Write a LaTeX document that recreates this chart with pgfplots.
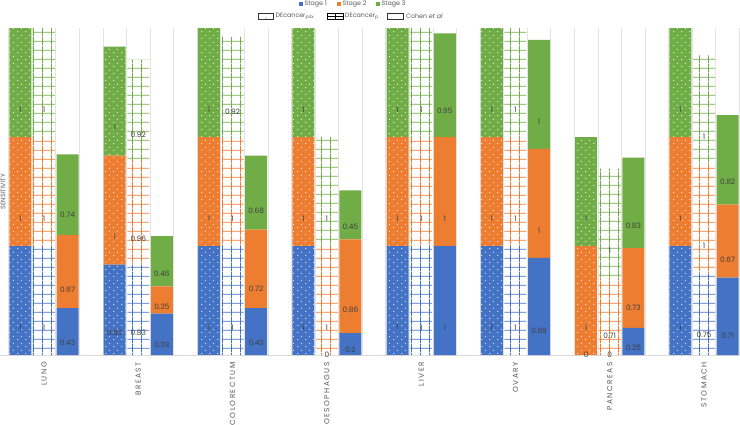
\documentclass[border=0pt]{standalone}
\usepackage{pgfplots}
\usepackage{pgfplotstable}
\pgfplotsset{compat=1.18}
\usepackage{fontspec}
\setmainfont{Poppins}
\usetikzlibrary{patterns.meta}

\definecolor{s1}{HTML}{4472C4}
\definecolor{s2}{HTML}{ED7D31}
\definecolor{s3}{HTML}{70AD47}
\definecolor{tgray}{HTML}{595959}
\definecolor{lgray}{HTML}{404040}

\tikzdeclarepattern{
  name=wdots,
  type=uncolored,
  bottom left={(0pt,0pt)},
  top right={(8pt,7pt)},
  tile size={(8pt,7pt)},
  code={
    \fill (2pt,1.75pt) circle (0.6pt);
    \fill (6pt,5.25pt) circle (0.6pt);
  }
}
\tikzdeclarepattern{
  name=pgrid,
  type=uncolored,
  bottom left={(0pt,0pt)},
  top right={(9.43pt,9.08pt)},
  tile size={(9.43pt,9.08pt)},
  code={
    \fill (5.35pt,0pt) rectangle (6.25pt,9.08pt);
    \fill (0pt,3.6pt) rectangle (9.43pt,4.5pt);
  }
}

\pgfplotstableread{
x pdxA pdxB pdxC pA pB pC cA cB cC
0 1    1 1 1    1    1    0.43 0.67 0.74
1 0.83 1 1 0.83 0.96 0.92 0.38 0.25 0.46
2 1    1 1 1    1    0.92 0.43 0.72 0.68
3 1    1 1 0    1    1    0.2  0.86 0.45
4 1    1 1 1    1    1    1    1    0.95
5 1    1 1 1    1    1    0.89 1    1
6 0    1 1 0    0.71 1    0.25 0.73 0.83
7 1    1 1 0.75 1    1    0.71 0.67 0.82
}\data

\pgfplotsset{
  common/.style={
    at={(0,0)}, anchor=south west,
    scale only axis, width=740pt, height=327pt,
    xmin=-0.4666, xmax=7.381, ymin=0, ymax=3,
    ybar stacked, bar width=22pt,
    stacked ignores zero=false,
    axis line style={draw=none},
    major tick length=0pt, minor tick length=0pt,
    ytick=\empty,
    point meta=explicit symbolic,
    nodes near coords={\pgfplotspointmeta},
    every node near coord/.append style={yshift=-\pgfplotspointmeta*27.25pt,
      anchor=center, inner sep=0pt, text=lgray, font=\fontsize{7.4}{8}\selectfont},
  },
}

\begin{document}
\begin{tikzpicture}
% Axis 1: grid, labels, DEcancer_pdx
\begin{axis}[common,
  xtick={0,...,7},
  xticklabels={LUNG,BREAST,COLORECTUM,OESOPHAGUS,LIVER,OVARY,PANCREAS,STOMACH},
  minor xtick={-0.375,-0.125,...,7.375},
  xminorgrids, minor grid style={draw=gray!22, line width=0.8pt},
  xticklabel style={rotate=90, anchor=east, inner sep=0pt, text=tgray,
    font=\fontsize{7.4}{8}\selectfont\addfontfeature{LetterSpace=20}},
  xticklabel shift=7pt,
]
\draw[gray!30, line width=0.8pt] (rel axis cs:0,0) -- (rel axis cs:1,0);
\addplot[bar shift=-23.6pt, fill=s1, draw=none, postaction={pattern=wdots, pattern color=white}]
  table[x=x, y=pdxA, meta=pdxA]{\data};
\addplot[bar shift=-23.6pt, fill=s2, draw=none, postaction={pattern=wdots, pattern color=white}]
  table[x=x, y=pdxB, meta=pdxB]{\data};
\addplot[bar shift=-23.6pt, fill=s3, draw=none, postaction={pattern=wdots, pattern color=white}]
  table[x=x, y=pdxC, meta=pdxC]{\data};
\node[rotate=90, anchor=north, inner sep=0.5pt, text=tgray, font=\fontsize{6.5}{7}\selectfont]
  at (rel axis cs:0,0.5) {SENSITIVITY};
\end{axis}
% Axis 2: DEcancer_p
\begin{axis}[common, xtick=\empty]
\addplot[bar shift=0pt, fill=white, draw=none, postaction={pattern=pgrid, pattern color=s1}]
  table[x=x, y=pA, meta=pA]{\data};
\addplot[bar shift=0pt, fill=white, draw=none, postaction={pattern=pgrid, pattern color=s2}]
  table[x=x, y=pB, meta=pB]{\data};
\addplot[bar shift=0pt, fill=white, draw=none, postaction={pattern=pgrid, pattern color=s3}]
  table[x=x, y=pC, meta=pC]{\data};
\end{axis}
% Axis 3: Cohen et al
\begin{axis}[common, xtick=\empty]
\addplot[bar shift=23.6pt, fill=s1, draw=none] table[x=x, y=cA, meta=cA]{\data};
\addplot[bar shift=23.6pt, fill=s2, draw=none] table[x=x, y=cB, meta=cB]{\data};
\addplot[bar shift=23.6pt, fill=s3, draw=none] table[x=x, y=cC, meta=cC]{\data};
\end{axis}
\begin{scope}[x=1pt, y=1pt, font=\fontsize{6.3}{7}\selectfont, text=tgray]
  \fill[s1] (299,349) rectangle (303,353);
  \node[anchor=west, inner sep=0pt] at (304.5,351) {Stage 1};
  \fill[s2] (337,349) rectangle (341,353);
  \node[anchor=west, inner sep=0pt] at (342.5,351) {Stage 2};
  \fill[s3] (376,349) rectangle (380,353);
  \node[anchor=west, inner sep=0pt] at (381.5,351) {Stage 3};
  % row 2
  \draw[black!80, line width=0.8pt] (258.5,335.5) rectangle (273.5,341.5);
  \fill[black!80] (266,337) circle (0.5);
  \node[anchor=west, inner sep=0pt] at (275.5,338.5) {DEcancer\textsubscript{pdx}};
  \draw[black, line width=1.2pt] (327.5,335.5) rectangle (343.5,341.5);
  \draw[black, line width=0.8pt] (327.5,338.5) -- (343.5,338.5);
  \draw[black, line width=0.8pt] (335.5,335.5) -- (335.5,341.5);
  \node[anchor=west, inner sep=0pt] at (345,338.5) {DEcancer\textsubscript{p}};
  \draw[black!80, line width=0.8pt] (387.5,335.5) rectangle (403.5,341.5);
  \node[anchor=west, inner sep=0pt] at (406,338.5) {Cohen \textit{et al}};
\end{scope}
\pgfresetboundingbox
\path (0pt,-69pt) rectangle (740pt,355pt);
\end{tikzpicture}
\end{document}
